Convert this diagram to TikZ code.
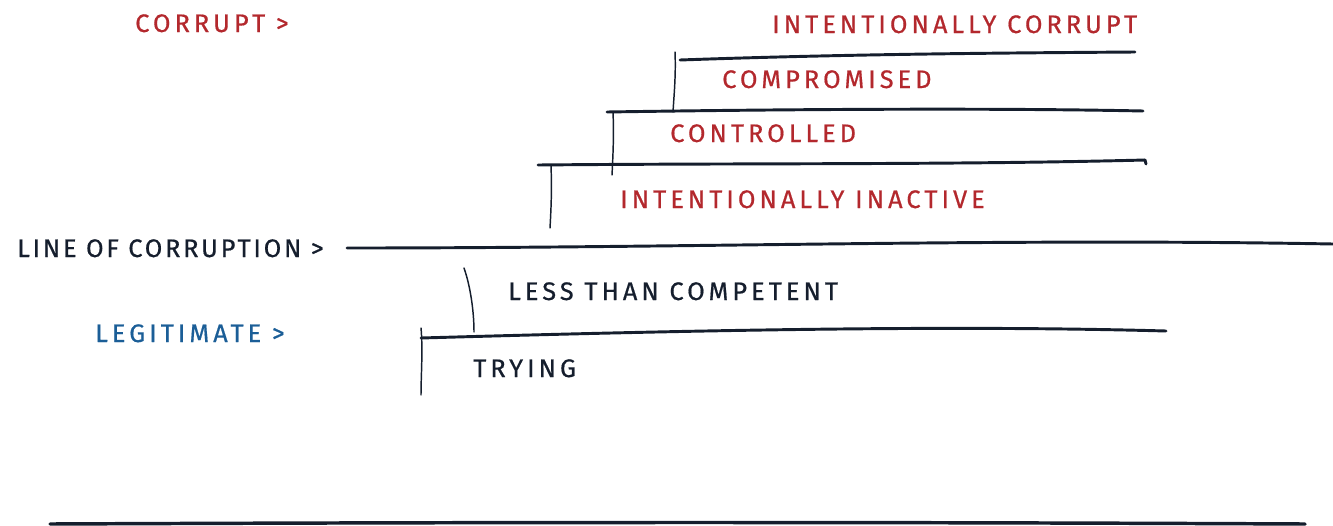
\documentclass[tikz,border=0pt]{standalone}
\usepackage{fontspec}
\setmainfont{Fira Sans}[LetterSpace=16, FakeBold=0.6]
\newfontfamily\tightfont{Fira Sans}[LetterSpace=11, FakeBold=0.6]
\definecolor{redc}{HTML}{B3282D}
\definecolor{bluec}{HTML}{1B5E97}
\definecolor{ink}{HTML}{151E2D}
\begin{document}
\begin{tikzpicture}[x=0.75pt,y=-0.75pt,
  lbl/.style={font=\fontsize{19}{20}\selectfont, inner sep=0pt, anchor=base west},
  redlbl/.style={lbl, text=redc},
  bluelbl/.style={lbl, text=bluec},
  blacklbl/.style={lbl, text=ink},
  stepline/.style={draw=ink, line width=2.2pt, line cap=round},
  riser/.style={draw=ink, line width=1.1pt, line cap=round}]
\useasboundingbox (0,0) rectangle (1333,525);

% labels
\node[redlbl] (corrupt) at (135,32) {CORRUPT >};
\node[redlbl] (intcorrupt) at (772,33) {INTENTIONALLY CORRUPT};
\node[redlbl] (compromised) at (722,88) {COMPROMISED};
\node[redlbl] (controlled) at (670,142) {CONTROLLED};
\node[redlbl] (inactive) at (620,208) {INTENTIONALLY INACTIVE};
\node[blacklbl, font=\fontsize{19}{20}\tightfont] (lineofc) at (17,257) {LINE OF CORRUPTION >};
\node[blacklbl] (less) at (508,300) {LESS THAN COMPETENT};
\node[bluelbl] (legit) at (95,342) {LEGITIMATE >};
\node[blacklbl] (trying) at (473,377) {TRYING};

% top step
\draw[stepline] (680,60) .. controls (850,54) and (1000,53) .. (1135,52);
\draw[riser] (675,52) .. controls (676,75) and (674,95) .. (673,112);
% second step
\draw[stepline] (607,112) .. controls (800,109) and (1000,108) .. (1143,111);
\draw[riser] (613,112) .. controls (614,135) and (613,155) .. (612,175);
% third step
\draw[stepline] (538,165) .. controls (750,163) and (950,165) .. (1145,160);
\draw[stepline] (1145,160) -- (1146,164);
\draw[riser] (551,166) .. controls (552,190) and (551,210) .. (550,228);
% line of corruption
\draw[stepline] (347,248) .. controls (700,248) and (1000,238) .. (1333,244);
% lower steps
\draw[riser] (464,268) .. controls (470,285) and (474,310) .. (474,332);
\draw[stepline] (421,338) .. controls (700,330) and (950,325) .. (1166,331);
\draw[riser] (421,328) .. controls (423,350) and (421,375) .. (421,395);
% bottom line
\draw[stepline, line width=2.6pt] (50,524) .. controls (500,522) and (900,522) .. (1305,524);
\end{tikzpicture}
\end{document}
